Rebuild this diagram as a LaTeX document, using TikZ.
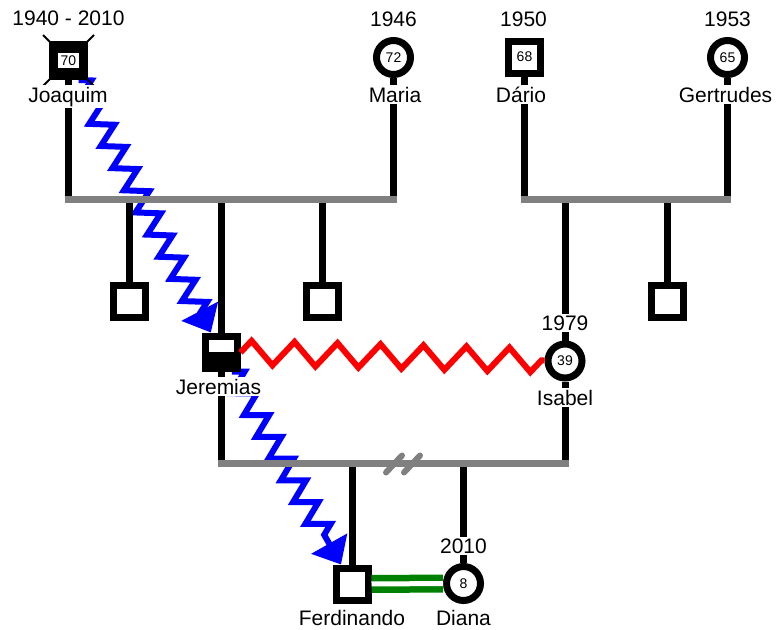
\documentclass[tikz,border=0pt]{standalone}
\usepackage{fontspec}
\setmainfont{Liberation Sans}
\usetikzlibrary{positioning,calc,decorations.pathmorphing,arrows.meta}

\pgfdeclarelayer{zig}
\pgfdeclarelayer{edges}
\pgfsetlayers{zig,edges,main}

\tikzset{
	male/.style={draw, line width=7pt, fill=white, minimum size=32pt, inner sep=0pt, font=\fontsize{14}{16}\selectfont},
	female/.style={male, circle, minimum size=34pt},
	lbl/.style={fill=white, inner sep=1.5pt, anchor=base, font=\fontsize{21}{25}\selectfont},
	link/.style={line width=7pt},
	bar/.style={line width=7pt, gray, line cap=rect},
	partner/.style={red, line width=6pt, decorate, decoration={zigzag, segment length=43pt, amplitude=12pt}},
	descent/.style={blue, line width=6pt, decorate, decoration={zigzag, segment length=25pt, amplitude=11pt, post length=22pt}, -{Triangle[width=40pt, length=24pt]}},
	spouse/.style={green!50!black, line width=6.5pt, double=white, double distance=5pt}
}

\begin{document}
\begin{tikzpicture}[x=1pt, y=-1pt]
		\useasboundingbox (0,0) rectangle (776,629);

		% Symboles
		\node[male, fill=black] (joaquim) at (68.5,60.5) {};
		\draw[line width=2pt] ($(joaquim.north west)+(-6,-6)$) -- ($(joaquim.south east)+(6,6)$);
		\draw[line width=2pt] ($(joaquim.north east)+(6,-6)$) -- ($(joaquim.south west)+(-6,6)$);
		\node[fill=white, inner sep=3pt, font=\fontsize{14}{16}\selectfont] (joaquimage) at (joaquim) {70};
		\node[female] (maria) at (393.5,57.5) {72};
		\node[male] (dario) at (524.5,57) {68};
		\node[female] (gertrudes) at (727.5,57.5) {65};

		\node[male] (kid1) at (129.5,301.5) {};
		\node[male, path picture={\fill[black] (path picture bounding box.west) rectangle (path picture bounding box.south east);}] (jeremias) at (221,352) {};
		\node[male] (kid2) at (322,301.5) {};
		\node[female] (isabel) at (565,361) {39};
		\node[male] (kid3) at (667,301.5) {};

		\node[male] (ferdinando) at (352,584) {};
		\node[female] (diana) at (463.5,583.5) {8};

		% Textes
		\node[lbl] (joaquimyear) at (68.5,25) {1940 - 2010};
		\node[lbl] (joaquimname) at (68,102) {Joaquim};
		\node[lbl] (mariayear) at (393.5,26) {1946};
		\node[lbl] (marianame) at (395,102) {Maria};
		\node[lbl] (darioyear) at (523.5,26) {1950};
		\node[lbl] (darioname) at (521,102) {Dário};
		\node[lbl] (gertrudesyear) at (727.5,26) {1953};
		\node[lbl] (gertrudesname) at (725.5,102) {Gertrudes};
		\node[lbl] (jeremiasname) at (218.5,394) {Jeremias};
		\node[lbl] (isabelyear) at (565,330) {1979};
		\node[lbl] (isabelname) at (565,405) {Isabel};
		\node[lbl] (dianayear) at (463.5,553) {2010};
		\node[lbl, inner sep=0.5pt] (ferdinandoname) at (352,625) {Ferdinando};
		\node[lbl, inner sep=0.5pt] (diananame) at (463.5,625) {Diana};

		% Traits de filiation
		\begin{pgfonlayer}{edges}
			\coordinate (topbar) at (0,199.5);
			\coordinate (lowbar) at (0,463.5);
			\draw[link] (joaquim) -- (joaquim |- topbar);
			\draw[link] (maria) -- (maria |- topbar);
			\draw[link] (dario) -- (dario |- topbar);
			\draw[link] (gertrudes) -- (gertrudes |- topbar);
			\draw[link] (kid1) -- (kid1 |- topbar);
			\draw[link] (jeremias) -- (jeremias |- topbar);
			\draw[link] (kid2) -- (kid2 |- topbar);
			\draw[link] (isabel) -- (isabel |- topbar);
			\draw[link] (kid3) -- (kid3 |- topbar);
			\draw[link] (jeremias) -- (jeremias |- lowbar);
			\draw[link] (isabel) -- (isabel |- lowbar);
			\draw[link] (ferdinando) -- (ferdinando |- lowbar);
			\draw[link] (diana) -- (diana |- lowbar);
			\draw[bar] (joaquim |- topbar) -- (maria |- topbar);
			\draw[bar] (dario |- topbar) -- (gertrudes |- topbar);
			\draw[bar] (jeremias |- lowbar) -- (isabel |- lowbar);
			% Séparation
			\coordinate (brk) at (403,463.5);
			\draw[gray, line width=6pt, line cap=round] ($(brk)+(-17,9)$) -- ($(brk)+(-1,-8)$);
			\draw[gray, line width=6pt, line cap=round] ($(brk)+(1,9)$) -- ($(brk)+(17,-8)$);
		\end{pgfonlayer}

		% Relations
		\draw[partner] (jeremias) -- (isabel);
		\draw[spouse] (ferdinando) -- (diana);
		\begin{pgfonlayer}{zig}
			\draw[descent] (joaquim) -- (jeremias);
			\draw[descent] (jeremias) -- (ferdinando);
		\end{pgfonlayer}
	\end{tikzpicture}
\end{document}
